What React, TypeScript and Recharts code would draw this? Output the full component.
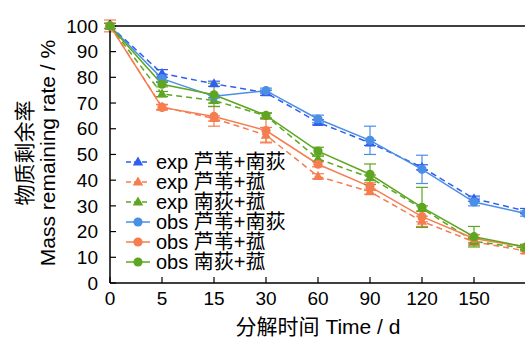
import { ErrorBar, Line, LineChart, ReferenceLine, XAxis, YAxis } from 'recharts';

const days = ['0', '5', '15', '30', '60', '90', '120', '150', '180'];
const yTicks = [0, 10, 20, 30, 40, 50, 60, 70, 80, 90, 100];

const expLuNan = [100, 81.5, 77.5, 74, 62.5, 54.5, 45, 32.8, 28];
const expLuGu = [100, 68.5, 64, 57.5, 41.5, 35.5, 24, 16, 12.5];
const expNanGu = [100, 73.5, 71, 65, 48.3, 41, 29, 16.2, 13.5];
const obsLuNan = [100, 79.5, 72.6, 74.8, 63.8, 55.5, 44.2, 31.5, 27];
const obsLuGu = [100, 68.3, 64.8, 59.3, 46.2, 37.5, 25.8, 17.3, 14];
const obsNanGu = [100, 77.3, 73.2, 65.2, 51.3, 42.3, 29.4, 18, 14];

const errExpLuNan = [0, 1.5, 1, 1, 1, 1, 1, 1, 1];
const errExpLuGu = [1, 1, 1, 3, 1, 1, 2, 1.5, 1];
const errExpNanGu = [1, 1, 1, 1, 1, 1, 1, 1, 1];
const errObsLuNan = [0, 1.5, 0.5, 1, 1.5, 5.5, 5.5, 1.5, 1];
const errObsLuGu = [2.3, 1, 3.8, 4.5, 1, 1.5, 2, 1.5, 1];
const errObsNanGu = [1, 1, 4.5, 1, 1.5, 4, 7.8, 4, 1];

const BLUE = '#4a8ee6';
const BLUE_DASH = '#2f5ef0';
const ORANGE = '#f57d4f';
const GREEN = '#5ea622';
const FONT = '"Liberation Sans", Arial, "Noto Sans CJK SC", sans-serif';

const data = days.map((day, i) => ({
  idx: i,
  day,
  expLuNan: expLuNan[i],
  expLuGu: expLuGu[i],
  expNanGu: expNanGu[i],
  obsLuNan: obsLuNan[i],
  obsLuGu: obsLuGu[i],
  obsNanGu: obsNanGu[i],
  errExpLuNan: errExpLuNan[i],
  errExpLuGu: errExpLuGu[i],
  errExpNanGu: errExpNanGu[i],
  errObsLuNan: errObsLuNan[i],
  errObsLuGu: errObsLuGu[i],
  errObsNanGu: errObsNanGu[i],
}));

const series = [
  { key: 'expLuNan', err: 'errExpLuNan', name: 'exp 芦苇+南荻', color: BLUE_DASH, exp: true },
  { key: 'expLuGu', err: 'errExpLuGu', name: 'exp 芦苇+菰', color: ORANGE, exp: true },
  { key: 'expNanGu', err: 'errExpNanGu', name: 'exp 南荻+菰', color: GREEN, exp: true },
  { key: 'obsLuNan', err: 'errObsLuNan', name: 'obs 芦苇+南荻', color: BLUE, exp: false },
  { key: 'obsLuGu', err: 'errObsLuGu', name: 'obs 芦苇+菰', color: ORANGE, exp: false },
  { key: 'obsNanGu', err: 'errObsNanGu', name: 'obs 南荻+菰', color: GREEN, exp: false },
];

const tri = (cx: number, cy: number, r: number) =>
  `M${cx},${cy - r} L${cx + r * 0.95},${cy + r * 0.65} L${cx - r * 0.95},${cy + r * 0.65} Z`;

const makeDot = (color: string, exp: boolean) => (props: any) => {
  const { cx, cy, index } = props;
  if (cx == null || cy == null) return <g key={index} />;
  return exp ? (
    <path key={index} d={tri(cx, cy, 5.5)} fill={color} />
  ) : (
    <circle key={index} cx={cx} cy={cy} r={4.6} fill={color} />
  );
};

function LegendBox() {
  return (
    <div
      style={{
        position: 'absolute',
        left: 124,
        top: 152,
        fontFamily: FONT,
        fontSize: 20,
        color: '#000',
        lineHeight: '20px',
      }}
    >
      {series.map((s) => (
        <div key={s.key} style={{ display: 'flex', alignItems: 'center', height: 20 }}>
          <svg width={32} height={20}>
            <line x1={2} x2={26} y1={10} y2={10} stroke={s.color} strokeWidth={1.5} strokeDasharray={s.exp ? '5 3' : undefined} />
            {s.exp ? <path d={tri(14, 10, 5.5)} fill={s.color} /> : <circle cx={14} cy={10} r={4.6} fill={s.color} />}
          </svg>
          <span>{s.name}</span>
        </div>
      ))}
    </div>
  );
}

export default function App() {
  return (
    <div style={{ position: 'fixed', left: 0, top: 0, width: 525, height: 340, overflow: 'hidden', background: '#fff' }}>
      <LineChart width={540} height={340} data={data} margin={{ top: 20, right: 14, bottom: 0, left: 0 }}>
        <XAxis
          dataKey="idx"
          type="number"
          domain={[0, 8]}
          ticks={[0, 1, 2, 3, 4, 5, 6, 7]}
          interval={0}
          tickFormatter={(v: number) => days[v]}
          height={57}
          tickSize={-6}
          tickMargin={15}
          axisLine={{ stroke: '#000', strokeWidth: 1.5 }}
          tickLine={{ stroke: '#000', strokeWidth: 1.2 }}
          tick={{ fill: '#000', fontSize: 19, fontFamily: FONT }}
          label={{
            content: () => (
              <text x={318} y={334} textAnchor="middle" fontSize={21} fontFamily={FONT} fill="#000">
                分解时间 Time / d
              </text>
            ),
          }}
        />
        <YAxis
          type="number"
          domain={[0, 100]}
          ticks={yTicks}
          interval={0}
          width={110}
          tickSize={-6}
          tickMargin={18}
          axisLine={{ stroke: '#000', strokeWidth: 1.5 }}
          tickLine={{ stroke: '#000', strokeWidth: 1.2 }}
          tick={{ fill: '#000', fontSize: 19, fontFamily: FONT }}
          label={{
            content: () => (
              <g fontFamily={FONT} fontSize={21} fill="#000">
                <text x={24} y={153} textAnchor="middle" dominantBaseline="central" transform="rotate(-90 24 153)">
                  物质剩余率
                </text>
                <text x={47} y={153} textAnchor="middle" dominantBaseline="central" transform="rotate(-90 47 153)">
                  Mass remaining rate / %
                </text>
              </g>
            ),
          }}
        />
        <ReferenceLine y={100} stroke="#000" strokeWidth={1.5} ifOverflow="visible" />
        {series.map((s) => (
          <Line
            key={s.key}
            dataKey={s.key}
            name={s.name}
            stroke={s.color}
            strokeWidth={1.5}
            strokeDasharray={s.exp ? '6 4' : undefined}
            dot={makeDot(s.color, s.exp)}
            activeDot={false}
            isAnimationActive={false}
          >
            <ErrorBar dataKey={s.err} width={6} stroke={s.color} strokeWidth={1.2} direction="y" />
          </Line>
        ))}
      </LineChart>
      <LegendBox />
    </div>
  );
}
